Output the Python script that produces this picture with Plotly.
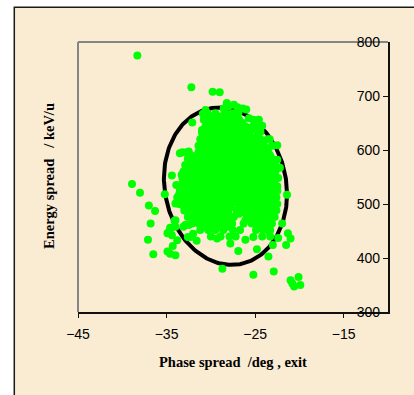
import numpy as np
import plotly.graph_objects as go

# Tracked particles at the exit: phase spread (deg) and energy spread (keV/u).
# Sparse particles around and outside the acceptance ellipse.
halo_phase = [
    -38.3, -32.2, -29.8, -29.0, -30.6, -30.9, -29.8, -32.1, -31.0, -28.2,
    -27.4, -28.0, -27.0, -26.4, -26.0, -28.55, -25.7, -24.6, -25.3, -24.2,
    -24.4, -23.35, -22.5, -25.2, -23.8, -22.5, -22.2, -23.1, -22.5, -21.4,
    -21.95, -21.3, -21.0, -21.5, -23.0, -22.4, -23.4, -23.5, -24.8, -22.9,
    -25.2, -28.7, -21.0, -20.1, -19.9, -20.6, -20.8, -26.9, -27.8, -29.3,
    -26.1, -25.2, -33.5, -32.5, -33.2, -34.4, -33.3, -35.2, -38.9, -38.0,
    -37.0, -36.3, -36.8, -37.1, -36.5, -34.9, -34.6, -34.0, -34.3, -34.9,
    -34.4, -34.6, -34.0, -34.0, -33.8, -33.9, -34.0, -33.4, -32.9, -32.3,
    -32.5, -32.6, -33.1, -33.6, -32.9, -34.8, -34.5, -34.1, -32.0, -31.6,
]
halo_energy = [
    775, 716, 708, 707, 674, 667, 662, 651, 637, 687,
    684, 681, 679, 677, 675, 677, 659, 656, 643, 645,
    634, 620, 609, 614, 591, 582, 567, 563, 533, 517,
    464, 446, 436, 424, 424, 437, 448, 403, 416, 375,
    369, 380, 359, 365, 350, 347, 353, 413, 427, 436,
    434, 439, 594, 597, 596, 553, 554, 518, 537, 521,
    497, 487, 464, 434, 407, 412, 408, 405, 422, 446,
    442, 456, 458, 470, 433, 535, 501, 501, 461, 439,
    461, 439, 458, 517, 513, 447, 455, 469, 445, 432,
]

# Dense core of the bunch, one energy level per row.
core_energy_rows = [
    668, 662, 656, 650, 644, 638, 632, 626, 620, 614,
    608, 602, 596, 590, 584, 578, 572, 566, 560, 554,
    548, 542, 536, 530, 524, 518, 512, 506, 500, 494,
    488, 482, 476, 470, 464, 458, 452, 440,
]
core_phase_rows = [
    [-30.4, -29.5, -28.4, -27.6, -26.9],
    [-30.1, -29.0, -28.0, -27.2],
    [-30.8, -30.0, -29.2, -28.5, -27.7, -26.8, -25.2, -24.6],
    [-30.4, -29.6, -28.8, -28.1, -27.3, -26.4],
    [-30.6, -29.8, -29.1, -28.3, -27.6, -26.8, -26.1, -24.9, -24.3],
    [-30.7, -29.9, -29.2, -28.4, -27.7, -26.9, -26.2, -25.4],
    [-31.0, -30.3, -29.5, -28.8, -28.0, -27.3, -26.5, -25.8, -24.6],
    [-30.8, -30.1, -29.3, -28.6, -27.8, -27.1, -26.3, -25.6, -24.8],
    [-31.2, -30.5, -29.7, -29.0, -28.2, -27.5, -26.7, -26.0, -25.3, -24.4, -23.6],
    [-31.0, -30.2, -29.5, -28.7, -28.0, -27.2, -26.5, -25.7, -25.0, -24.3],
    [-31.4, -30.6, -29.9, -29.1, -28.4, -27.6, -26.9, -26.1, -25.4, -24.7, -24.0, -23.1],
    [-31.1, -30.3, -29.6, -28.8, -28.1, -27.3, -26.6, -25.8, -25.1, -24.4, -23.7],
    [-32.7, -31.4, -30.7, -29.9, -29.2, -28.5, -27.7, -27.0, -26.2, -25.5, -24.8, -24.1, -23.5],
    [-32.2, -31.5, -30.8, -30.0, -29.3, -28.5, -27.8, -27.0, -26.3, -25.5, -24.8, -24.0, -23.3],
    [-32.6, -31.9, -31.1, -30.4, -29.6, -28.9, -28.1, -27.4, -26.6, -25.9, -25.1, -24.4, -23.7, -23.1],
    [-32.5, -31.8, -31.1, -30.3, -29.6, -28.8, -28.1, -27.3, -26.6, -25.8, -25.1, -24.3, -23.6],
    [-32.9, -32.2, -31.5, -30.7, -30.0, -29.2, -28.5, -27.7, -27.0, -26.2, -25.5, -24.7, -24.0, -23.3, -22.7],
    [-32.7, -32.0, -31.3, -30.5, -29.8, -29.0, -28.3, -27.5, -26.8, -26.0, -25.3, -24.5, -23.8, -23.1],
    [-33.1, -32.4, -31.7, -30.9, -30.2, -29.4, -28.7, -27.9, -27.2, -26.4, -25.7, -24.9, -24.2, -23.4, -22.7],
    [-32.8, -32.1, -31.4, -30.6, -29.9, -29.1, -28.4, -27.6, -26.9, -26.1, -25.4, -24.6, -23.9, -23.1],
    [-33.2, -32.6, -31.9, -31.1, -30.4, -29.6, -28.9, -28.1, -27.4, -26.6, -25.9, -25.1, -24.4, -23.6, -22.9, -22.4],
    [-32.9, -32.2, -31.5, -30.7, -30.0, -29.2, -28.5, -27.7, -27.0, -26.2, -25.5, -24.7, -24.0, -23.2],
    [-33.3, -32.6, -31.8, -31.1, -30.3, -29.6, -28.8, -28.1, -27.3, -26.6, -25.8, -25.1, -24.3, -23.6, -22.8],
    [-33.0, -32.3, -31.6, -30.8, -30.1, -29.3, -28.6, -27.8, -27.1, -26.3, -25.6, -24.8, -24.1, -23.3],
    [-33.5, -32.8, -32.1, -31.3, -30.6, -29.8, -29.1, -28.3, -27.6, -26.8, -26.1, -25.3, -24.6, -23.8, -23.1, -22.5],
    [-33.1, -32.4, -31.7, -30.9, -30.2, -29.4, -28.7, -27.9, -27.2, -26.4, -25.7, -24.9, -24.2, -23.4],
    [-33.8, -33.1, -32.3, -31.6, -30.8, -30.1, -29.3, -28.6, -27.8, -27.1, -26.3, -25.6, -24.8, -24.1, -23.3, -22.6],
    [-33.2, -32.5, -31.8, -31.0, -30.3, -29.5, -28.8, -28.0, -27.3, -26.5, -25.8, -25.0, -24.3, -23.5, -22.9],
    [-33.6, -32.9, -32.2, -31.4, -30.7, -29.9, -29.2, -28.4, -27.7, -26.9, -26.2, -25.4, -24.7, -23.9, -23.2, -22.5],
    [-33.0, -32.3, -31.5, -30.8, -30.0, -29.3, -28.5, -27.8, -26.7, -26.0, -25.2, -24.5, -23.7, -23.0],
    [-33.0, -32.3, -31.6, -30.9, -30.1, -29.4, -28.6, -27.1, -26.4, -25.6, -24.9, -24.1, -23.4, -22.6],
    [-32.5, -31.8, -31.0, -30.3, -29.5, -28.8, -28.0, -26.8, -26.0, -25.3, -24.5, -23.8, -23.1],
    [-32.6, -31.9, -31.1, -30.4, -29.6, -28.9, -28.1, -27.4, -25.9, -25.1, -24.4, -23.6, -22.8],
    [-31.8, -31.0, -30.2, -29.4, -28.6, -27.8, -26.1, -25.2, -24.4, -23.6],
    [-32.1, -31.4, -30.6, -29.9, -29.1, -28.3, -27.6, -26.3, -25.4, -24.6, -23.8, -23.1],
    [-30.8, -29.9, -29.0, -28.1, -24.5, -23.7],
    [-31.2, -30.3, -29.5, -28.6, -27.5, -26.7, -24.9, -24.1, -23.3],
    [-30.0, -28.9, -27.9, -27.2, -24.2, -23.3],
]

# Acceptance ellipse: centre, half extents and the energy-phase skew.
ellipse_center = (-28.35, 533.0)
ellipse_half_phase = 6.95
ellipse_half_energy = 145.7
ellipse_skew = -0.1

x_ticks = [-45, -35, -25, -15]
y_ticks = [300, 400, 500, 600, 700, 800]

BEIGE = "#FAEBD3"

phase = list(halo_phase)
energy = list(halo_energy)
for e_row, p_row in zip(core_energy_rows, core_phase_rows):
    phase.extend(p_row)
    energy.extend([e_row] * len(p_row))

t = np.linspace(0, 2 * np.pi, 241)
ell_x = ellipse_center[0] + ellipse_half_phase * np.cos(t)
ell_y = ellipse_center[1] + ellipse_half_energy * np.sin(t + ellipse_skew)

fig = go.Figure()
fig.add_trace(go.Scatter(
    x=ell_x, y=ell_y, mode="lines",
    line=dict(color="black", width=4),
    hoverinfo="skip",
))
fig.add_trace(go.Scatter(
    x=phase, y=energy, mode="markers",
    marker=dict(color="#00FF00", size=8, line=dict(width=0)),
))

tick_font = dict(family="Liberation Sans, Arial", size=14, color="black")
title_font = dict(family="Liberation Serif, Times New Roman", size=14.5,
                  color="black", weight="bold")

fig.update_layout(
    width=414, height=395,
    margin=dict(l=78, r=26, t=42, b=83),
    paper_bgcolor="white",
    plot_bgcolor="rgba(0,0,0,0)",
    showlegend=False,
    hovermode=False,
    xaxis=dict(
        range=[-45, -10], tickvals=x_ticks, ticks="outside", ticklen=4,
        tickcolor="#111", showline=True, linecolor="#111", linewidth=1.5,
        showgrid=False, zeroline=False, tickfont=tick_font,
        ticklabelstandoff=4,
    ),
    yaxis=dict(
        range=[300, 800], tickvals=y_ticks, side="right", ticks="inside",
        ticklen=5, tickcolor="#111", ticklabelposition="inside",
        ticklabeloverflow="allow", showline=True, linecolor="#111",
        linewidth=1.5, showgrid=False, zeroline=False, tickfont=tick_font,
        ticklabelstandoff=3,
    ),
    shapes=[
        # page panel with its frame
        dict(type="rect", xref="paper", yref="paper",
             x0=-0.2055, x1=1.3, y0=-0.6, y1=1.1285,
             fillcolor=BEIGE, line=dict(color="#1a1a1a", width=1.5),
             layer="below"),
        # grey plot-area border on the top and left
        dict(type="line", xref="paper", yref="paper", x0=0, x1=1, y0=1, y1=1,
             line=dict(color="#858585", width=2), layer="below"),
        dict(type="line", xref="paper", yref="paper", x0=0, x1=0, y0=0, y1=1,
             line=dict(color="#858585", width=2), layer="below"),
    ],
    annotations=[
        dict(text="Phase spread\u00a0 /deg , exit", xref="paper", yref="paper",
             x=0.5, y=-0.185, xanchor="center", yanchor="middle",
             showarrow=False, font=title_font),
        dict(text="Energy spread\u00a0\u00a0 / keV/u", xref="paper", yref="paper",
             x=-0.0935, y=0.5037, xanchor="center", yanchor="middle",
             textangle=-90, showarrow=False, font=title_font),
    ],
)

fig.write_html("out.html")
